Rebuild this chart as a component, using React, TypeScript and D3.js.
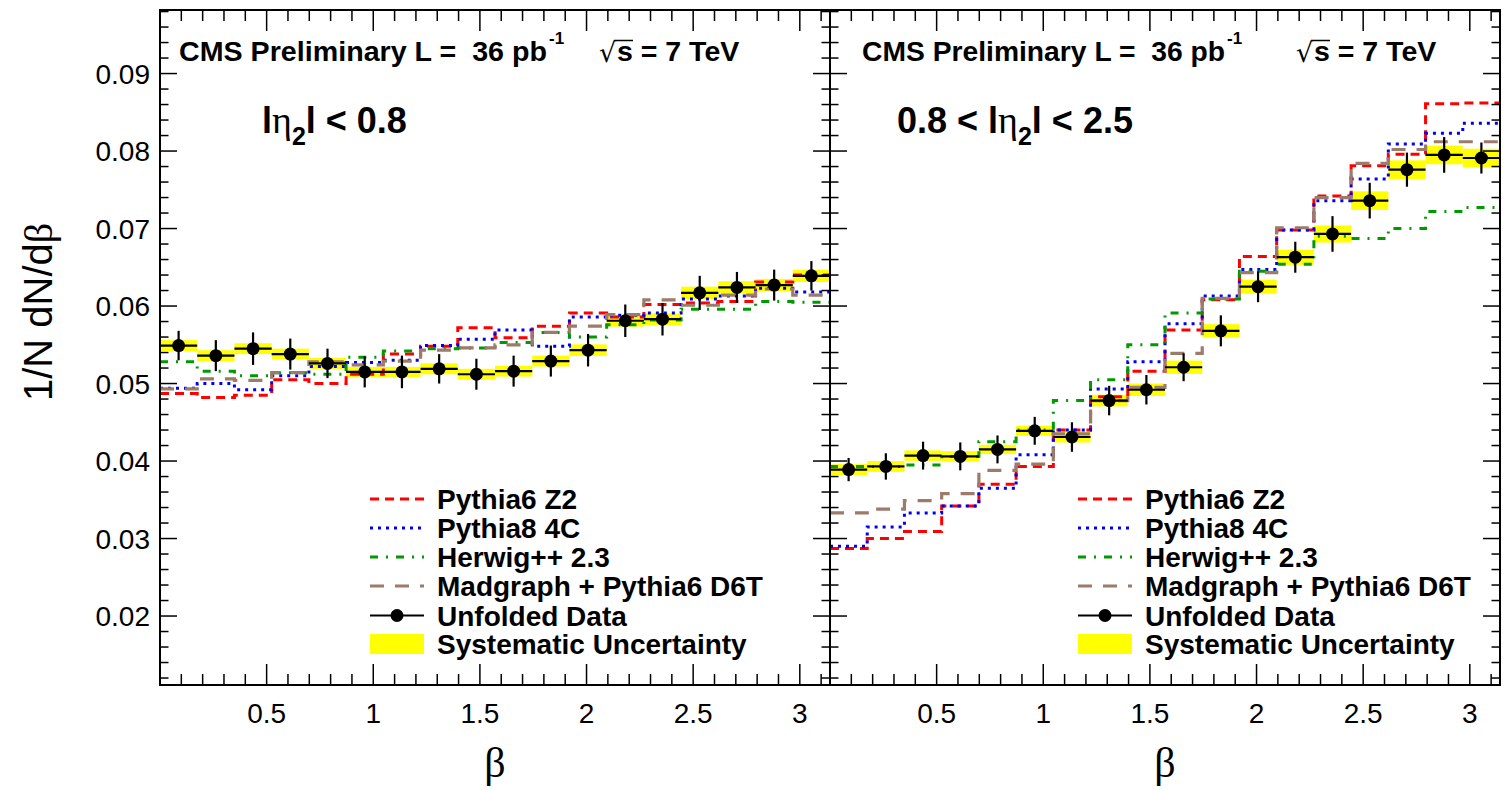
import React from 'react';
import * as d3 from 'd3';

// ---------- data ----------
const N_BINS = 18;
const BETA_MAX = Math.PI;
const xTickLabels = [0.5, 1, 1.5, 2, 2.5, 3];
const yTickLabels = [0.02, 0.03, 0.04, 0.05, 0.06, 0.07, 0.08, 0.09];
const Y_MIN = 0.0111;
const Y_MAX = 0.0982;

const seriesNames = ['Pythia6 Z2', 'Pythia8 4C', 'Herwig++ 2.3', 'Madgraph + Pythia6 D6T'];
const dataLabel = 'Unfolded Data';
const systLabel = 'Systematic Uncertainty';

// |eta2| < 0.8
const dataCentral = [0.0549, 0.0536, 0.0545, 0.0538, 0.0526, 0.0515, 0.0515, 0.0519, 0.0512, 0.0516, 0.0529, 0.0543, 0.0581, 0.0583, 0.0617, 0.0624, 0.0627, 0.0639];
const statCentral = [0.0019, 0.0020, 0.0021, 0.0020, 0.0019, 0.0020, 0.0021, 0.0019, 0.0020, 0.0020, 0.0020, 0.0021, 0.0021, 0.0021, 0.0022, 0.0020, 0.0020, 0.0019];
const systCentral = [0.0007, 0.0007, 0.0007, 0.0007, 0.0007, 0.00065, 0.00065, 0.0007, 0.0007, 0.0007, 0.0007, 0.00075, 0.00075, 0.00075, 0.0008, 0.0008, 0.0008, 0.0008];
const pythia6Central = [0.0487, 0.0482, 0.0485, 0.0505, 0.0500, 0.0512, 0.0538, 0.0548, 0.0572, 0.0559, 0.0574, 0.0591, 0.0586, 0.0602, 0.0604, 0.0606, 0.0631, 0.0640];
const pythia8Central = [0.0494, 0.0500, 0.0492, 0.0510, 0.0522, 0.0527, 0.0530, 0.0549, 0.0557, 0.0569, 0.0548, 0.0586, 0.0588, 0.0591, 0.0609, 0.0613, 0.0623, 0.0618];
const herwigCentral = [0.0528, 0.0516, 0.0510, 0.0514, 0.0512, 0.0534, 0.0542, 0.0545, 0.0546, 0.0553, 0.0566, 0.0560, 0.0576, 0.0582, 0.0596, 0.0596, 0.0606, 0.0605];
const madgraphCentral = [0.0493, 0.0506, 0.0504, 0.0514, 0.0528, 0.0524, 0.0529, 0.0543, 0.0546, 0.0550, 0.0566, 0.0574, 0.0589, 0.0608, 0.0601, 0.0614, 0.0622, 0.0614];

// 0.8 < |eta2| < 2.5
const dataForward = [0.0389, 0.0393, 0.0407, 0.0406, 0.0415, 0.0439, 0.0431, 0.0478, 0.0492, 0.0521, 0.0568, 0.0625, 0.0663, 0.0693, 0.0736, 0.0776, 0.0795, 0.0791];
const statForward = [0.0015, 0.0017, 0.0018, 0.0018, 0.0018, 0.0018, 0.0019, 0.0019, 0.0019, 0.0018, 0.0020, 0.0020, 0.0020, 0.0023, 0.0023, 0.0022, 0.0023, 0.0020];
const systForward = [0.0007, 0.0007, 0.00067, 0.00067, 0.0006, 0.00065, 0.0007, 0.00075, 0.0008, 0.00086, 0.00086, 0.0009, 0.00097, 0.0011, 0.0012, 0.0012, 0.0012, 0.0012];
const pythia6Forward = [0.0287, 0.0300, 0.0309, 0.0342, 0.0370, 0.0393, 0.0440, 0.0483, 0.0516, 0.0569, 0.0608, 0.0664, 0.0698, 0.0742, 0.0781, 0.0796, 0.0861, 0.0862];
const pythia8Forward = [0.0290, 0.0315, 0.0333, 0.0342, 0.0365, 0.0408, 0.0440, 0.0493, 0.0528, 0.0577, 0.0613, 0.0647, 0.0698, 0.0736, 0.0764, 0.0809, 0.0823, 0.0836];
const herwigForward = [0.0393, 0.0393, 0.0395, 0.0406, 0.0425, 0.0440, 0.0478, 0.0505, 0.0550, 0.0591, 0.0609, 0.0645, 0.0654, 0.0690, 0.0687, 0.0700, 0.0722, 0.0727];
const madgraphForward = [0.0333, 0.0338, 0.0349, 0.0358, 0.0388, 0.0396, 0.0435, 0.0478, 0.0495, 0.0539, 0.0610, 0.0643, 0.0701, 0.0740, 0.0784, 0.0802, 0.0812, 0.0812];

// ---------- styles ----------
const W = 1503;
const H = 790;
const TOP = 10;
const BOTTOM = 685;
const SANS = '"Liberation Sans", Arial, Helvetica, sans-serif';
const SERIF = '"Liberation Serif", "Times New Roman", serif';
const seriesColors = ['#ff0000', '#0000ee', '#009900', '#9c7b6b'];
const seriesDash = ['9 6', '3 5', '8 8 2 8', '14 11'];
const seriesWidth = [3, 3, 3, 3.2];

const panels = [
  {
    id: 'c', x0: 160, x1: 830,
    data: dataCentral, stat: statCentral, syst: systCentral,
    mc: [pythia6Central, pythia8Central, herwigCentral, madgraphCentral],
    cmsX: 179, cmsW: 368, sqrtX: 599, etaX: 262, etaPre: '', etaPost: 'l < 0.8',
    legX: 370, yLabels: true,
  },
  {
    id: 'f', x0: 830, x1: 1500,
    data: dataForward, stat: statForward, syst: systForward,
    mc: [pythia6Forward, pythia8Forward, herwigForward, madgraphForward],
    cmsX: 862, cmsW: 363, sqrtX: 1296, etaX: 897, etaPre: '0.8 < ', etaPost: 'l < 2.5',
    legX: 1078, yLabels: false,
  },
];

const legendRows = [499, 528, 557, 586, 615.5, 644];

function Panel({ p }: { p: any }) {
  const x = d3.scaleLinear().domain([0, BETA_MAX]).range([p.x0, p.x1]);
  const y = d3.scaleLinear().domain([Y_MIN, Y_MAX]).range([BOTTOM, TOP]);
  const edges = d3.range(N_BINS + 1).map((i) => (i * BETA_MAX) / N_BINS);
  const stepLine = d3
    .line<[number, number]>()
    .x((d) => x(d[0]))
    .y((d) => y(d[1]))
    .curve(d3.curveStepAfter);
  const stepPts = (vals: number[]) => {
    const pts: [number, number][] = vals.map((v, i) => [edges[i], v]);
    pts.push([edges[N_BINS], vals[N_BINS - 1]]);
    return pts;
  };
  const xMinor = d3.range(1, 32).map((i) => i / 10).filter((v) => v < BETA_MAX);
  const isXMajor = (v: number) => Math.abs(v * 2 - Math.round(v * 2)) < 1e-6;
  const yMinor = d3.range(6, 50).map((i) => i * 0.002).filter((v) => v > Y_MIN && v < Y_MAX);
  const isYMajor = (v: number) => Math.abs(v * 100 - Math.round(v * 100)) < 1e-6;
  const clipId = 'clip-' + p.id;

  return (
    <g>
      <defs>
        <clipPath id={clipId}>
          <rect x={p.x0} y={TOP} width={p.x1 - p.x0} height={BOTTOM - TOP} />
        </clipPath>
      </defs>
      <g clipPath={`url(#${clipId})`}>
        {/* systematic boxes */}
        {p.data.map((v: number, i: number) => (
          <rect key={'s' + i} x={x(edges[i])} width={x(edges[i + 1]) - x(edges[i])}
            y={y(v + p.syst[i])} height={y(v - p.syst[i]) - y(v + p.syst[i])} fill="#ffff00" />
        ))}
        {/* MC step histograms */}
        {p.mc.map((vals: number[], k: number) => (
          <path key={'mc' + k} d={stepLine(stepPts(vals)) || ''} fill="none"
            stroke={seriesColors[k]} strokeWidth={seriesWidth[k]} strokeDasharray={seriesDash[k]} />
        ))}
        {/* data */}
        {p.data.map((v: number, i: number) => {
          const cx = x((edges[i] + edges[i + 1]) / 2);
          return (
            <g key={'d' + i}>
              <line x1={x(edges[i])} x2={x(edges[i + 1])} y1={y(v)} y2={y(v)} stroke="#000" strokeWidth={2.2} />
              <line x1={cx} x2={cx} y1={y(v + p.stat[i])} y2={y(v - p.stat[i])} stroke="#000" strokeWidth={2.2} />
              <circle cx={cx} cy={y(v)} r={6.5} fill="#000" />
            </g>
          );
        })}
      </g>

      {/* ticks */}
      {xMinor.map((v, i) => {
        const len = isXMajor(v) ? 21 : 11;
        return (
          <g key={'xt' + i} stroke="#000" strokeWidth={1.5}>
            <line x1={x(v)} x2={x(v)} y1={BOTTOM} y2={BOTTOM - len} />
            <line x1={x(v)} x2={x(v)} y1={TOP} y2={TOP + len} />
          </g>
        );
      })}
      {yMinor.map((v, i) => {
        const len = isYMajor(v) ? 17 : 8.5;
        return (
          <g key={'yt' + i} stroke="#000" strokeWidth={1.5}>
            <line x1={p.x0} x2={p.x0 + len} y1={y(v)} y2={y(v)} />
            <line x1={p.x1} x2={p.x1 - len} y1={y(v)} y2={y(v)} />
          </g>
        );
      })}
      <rect x={p.x0} y={TOP} width={p.x1 - p.x0} height={BOTTOM - TOP} fill="none" stroke="#000" strokeWidth={2} />

      {/* tick labels */}
      {xTickLabels.map((v) => (
        <text key={'xl' + v} x={x(v)} y={723} textAnchor="middle" fontFamily={SANS} fontSize={28}>{String(v)}</text>
      ))}
      {p.yLabels && yTickLabels.map((v) => (
        <text key={'yl' + v} x={150} y={y(v)} dy="0.36em" textAnchor="end" fontFamily={SANS} fontSize={28}>{v.toFixed(2)}</text>
      ))}
      <text x={(p.x0 + p.x1) / 2} y={777} textAnchor="middle" fontFamily={SERIF} fontSize={42}>β</text>

      {/* CMS label */}
      <text x={p.cmsX} y={61} fontFamily={SANS} fontWeight="bold" fontSize={28.5}
        textLength={p.cmsW} lengthAdjust="spacingAndGlyphs" style={{ whiteSpace: 'pre' }}>{'CMS Preliminary L =  36 pb'}</text>
      <text x={p.cmsX + p.cmsW + 2} y={44} fontFamily={SANS} fontWeight="bold" fontSize={17}>-1</text>
      <text x={p.sqrtX} y={62} fontFamily={'"DejaVu Sans", sans-serif'} fontSize={27}>√</text>
      <line x1={p.sqrtX + 15} x2={p.sqrtX + 34} y1={40.5} y2={40.5} stroke="#000" strokeWidth={1.5} />
      <text x={p.sqrtX + 18} y={61} fontFamily={SANS} fontWeight="bold" fontSize={28.5}>s = 7 TeV</text>

      {/* eta label */}
      <text x={p.etaX} y={133} fontFamily={SANS} fontWeight="bold" fontSize={36} style={{ whiteSpace: 'pre' }}>
        {p.etaPre + 'l'}
        <tspan fontFamily={SERIF} fontWeight="normal" fontSize={38}>η</tspan>
        <tspan fontSize={25} dy={12}>2</tspan>
        <tspan dy={-12}>{p.etaPost}</tspan>
      </text>

      {/* legend */}
      {seriesNames.map((name, k) => (
        <g key={'lg' + k}>
          <line x1={p.legX} x2={p.legX + 54} y1={legendRows[k]} y2={legendRows[k]} stroke={seriesColors[k]}
            strokeWidth={seriesWidth[k]} strokeDasharray={seriesDash[k]} />
          <text x={p.legX + 67} y={legendRows[k] + 10} fontFamily={SANS} fontWeight="bold" fontSize={28}>{name}</text>
        </g>
      ))}
      <line x1={p.legX} x2={p.legX + 54} y1={legendRows[4]} y2={legendRows[4]} stroke="#000" strokeWidth={2.2} />
      <circle cx={p.legX + 27} cy={legendRows[4]} r={6.5} fill="#000" />
      <text x={p.legX + 67} y={legendRows[4] + 10} fontFamily={SANS} fontWeight="bold" fontSize={28}>{dataLabel}</text>
      <rect x={p.legX} y={legendRows[5] - 10} width={54} height={20} fill="#ffff00" />
      <text x={p.legX + 67} y={legendRows[5] + 10} fontFamily={SANS} fontWeight="bold" fontSize={28}>{systLabel}</text>
    </g>
  );
}

export default function App() {
  return (
    <svg width={W} height={H} viewBox={`0 0 ${W} ${H}`}
      style={{ position: 'absolute', left: 0, top: 0, background: '#fff', display: 'block' }}>
      <rect x={0} y={0} width={W} height={H} fill="#fff" />
      {panels.map((p) => <Panel key={p.id} p={p} />)}
      <text transform="translate(52,312) rotate(-90)" textAnchor="middle" fontFamily={SANS} fontSize={40}>
        1/N dN/d<tspan fontFamily={SERIF}>β</tspan>
      </text>
    </svg>
  );
}
